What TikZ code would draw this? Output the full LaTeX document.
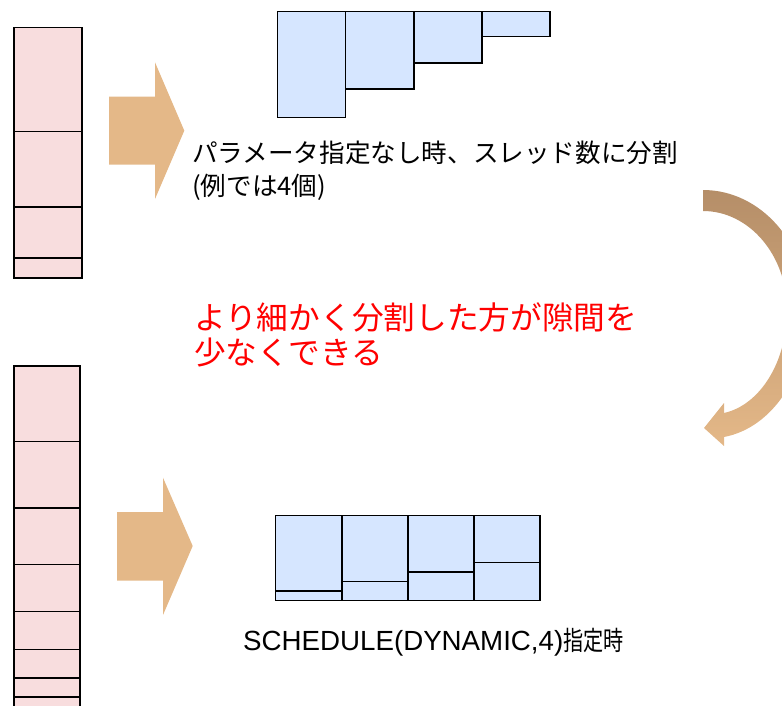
\documentclass[tikz,border=0pt]{standalone}
\usepackage{fontspec}
\setmainfont{Noto Sans CJK JP}
\newfontfamily\latinfont{Liberation Sans}
\newfontfamily\narrowcjk[FakeStretch=0.76]{Noto Sans CJK JP}
\definecolor{taskpink}{RGB}{248,221,222}
\definecolor{chunkblue}{RGB}{214,230,255}
\definecolor{arrowtan}{RGB}{228,184,136}
\definecolor{arrowdark}{RGB}{181,142,104}
\tikzset{
  task/.style={draw, fill=taskpink, line width=1.5pt, inner sep=0pt, anchor=north west},
  chunk/.style={draw, fill=chunkblue, line width=1.5pt, inner sep=0pt, anchor=north west},
}
\begin{document}
\begin{tikzpicture}[x=1pt,y=-1pt]
\useasboundingbox (0,0) rectangle (782,706);
\clip (0,0) rectangle (782,706);
% top stack
\node[task, minimum width=68pt, minimum height=104pt] (ta0) at (13,26.7){};
\node[task, minimum width=68pt, minimum height=75.3pt] (ta1) at (13,130.7){};
\node[task, minimum width=68pt, minimum height=51.3pt] (ta2) at (13,206){};
\node[task, minimum width=68pt, minimum height=20pt] (ta3) at (13,257.3){};
% bottom stack
\node[task, minimum width=66pt, minimum height=75.7pt] (tb0) at (13,365){};
\node[task, minimum width=66pt, minimum height=66.3pt] (tb1) at (13,440.7){};
\node[task, minimum width=66pt, minimum height=56.7pt] (tb2) at (13,507){};
\node[task, minimum width=66pt, minimum height=47pt] (tb3) at (13,563.7){};
\node[task, minimum width=66pt, minimum height=38pt] (tb4) at (13,610.7){};
\node[task, minimum width=66pt, minimum height=28.3pt] (tb5) at (13,648.7){};
\node[task, minimum width=66pt, minimum height=19.3pt] (tb6) at (13,677){};
\node[task, minimum width=66pt, minimum height=30pt] (tb7) at (13,696.3){};
% block arrows
\fill[arrowtan] (109,96.7) -- (155,96.7) -- (155,62.3) -- (184.3,130.7) -- (155,199) -- (155,164.7) -- (109,164.7) -- cycle;
\fill[arrowtan] (117,512) -- (163,512) -- (163,477.7) -- (192.7,546) -- (163,615) -- (163,580.7) -- (117,580.7) -- cycle;
% default split
\node[chunk, minimum width=68pt, minimum height=105.7pt] (ca0) at (276.7,11){};
\node[chunk, minimum width=68.3pt, minimum height=77.3pt] (ca1) at (344.7,11){};
\node[chunk, minimum width=68pt, minimum height=51.3pt] (ca2) at (413,11){};
\node[chunk, minimum width=68pt, minimum height=25pt] (ca3) at (481,11){};
% dynamic split
\node[chunk, minimum width=66.3pt, minimum height=75.3pt] (cb0) at (274.7,514.7){};
\node[chunk, minimum width=66.3pt, minimum height=9.7pt] (cb0b) at (274.7,590){};
\node[chunk, minimum width=66pt, minimum height=66pt] (cb1) at (341,514.7){};
\node[chunk, minimum width=66pt, minimum height=19pt] (cb1b) at (341,580.7){};
\node[chunk, minimum width=66pt, minimum height=56.6pt] (cb2) at (407,514.7){};
\node[chunk, minimum width=66pt, minimum height=28.4pt] (cb2b) at (407,571.3){};
\node[chunk, minimum width=66.3pt, minimum height=47pt] (cb3) at (473,514.7){};
\node[chunk, minimum width=66.3pt, minimum height=38pt] (cb3b) at (473,561.7){};
% curved arrow
\shade[top color=arrowdark, bottom color=arrowtan]
  (703,211) .. controls (749,211) and (787,255) .. (787,310)
  .. controls (787,362) and (760,405) .. (724,413)
  -- (724,403) -- (704,428) -- (724,446) -- (724,437)
  .. controls (772,428) and (808,375) .. (808,310)
  .. controls (808,244) and (761,190) .. (703,190) -- cycle;
% labels
\node[anchor=west, inner sep=0pt, align=left, font=\fontsize{25.6}{33}\selectfont] (deflabel) at (192,171)
  {パラメータ指定なし時、スレッド数に分割\\(例では4個)};
\node[anchor=west, inner sep=0pt, align=left, text=red, font=\fontsize{31.7}{34.5}\selectfont] (note) at (194,335)
  {より細かく分割した方が隙間を\\少なくできる};
\node[anchor=west, inner sep=0pt] (dynlabel) at (243,642)
  {{\latinfont\fontsize{27.7}{30}\selectfont SCHEDULE(DYNAMIC,4)}{\narrowcjk\fontsize{26.5}{30}\selectfont 指定時}};
\end{tikzpicture}
\end{document}
